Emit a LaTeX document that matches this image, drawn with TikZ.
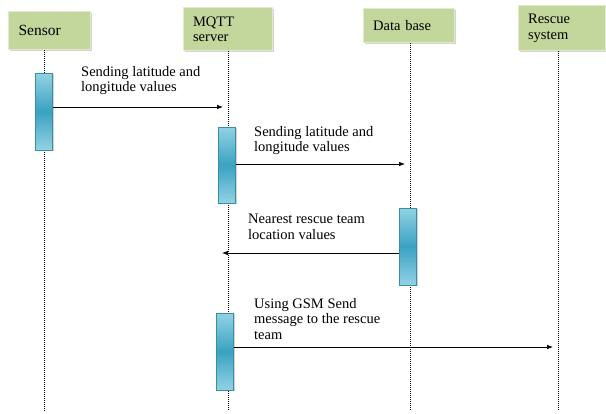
\documentclass[tikz,border=0pt]{standalone}
\usepackage{fontspec}
\setmainfont{Liberation Serif}
\usepackage{tikz}
\usetikzlibrary{arrows.meta,shadows}

\definecolor{actorgreen}{HTML}{C3D69B}
\definecolor{actoredge}{HTML}{E2EBCF}
\definecolor{barlight}{HTML}{92D2E4}
\definecolor{bardark}{HTML}{3AA2C2}
\definecolor{baredge}{HTML}{3B8DA6}

\begin{document}
\begin{tikzpicture}[x=1pt, y=-1pt,
        font=\fontsize{14.5}{15.5}\selectfont,
        actor/.style={rectangle, anchor=north west, fill=actorgreen, draw=actoredge, line width=1.2pt,
            drop shadow={shadow xshift=1.5pt, shadow yshift=-1.5pt, opacity=0.35},
            align=left, inner xsep=9pt, inner ysep=3pt},
        bar/.style={rectangle, minimum width=17pt, draw=baredge, line width=0.6pt,
            top color=barlight, bottom color=barlight, middle color=bardark,
            drop shadow={shadow xshift=1pt, shadow yshift=-1.2pt, opacity=0.35}},
        lifeline/.style={densely dotted, line width=1pt},
        msg/.style={-{Latex[length=6pt, width=4.5pt]}, line width=0.7pt},
        lbl/.style={anchor=north west, align=left, inner sep=0pt}
    ]
    \useasboundingbox (0,0) rectangle (606,413);

    % Participants
    \node[actor, minimum width=82pt, minimum height=38pt, text width=62pt, yshift=-1pt] (sensor) at (8,10) {\fontsize{15.5}{16}\selectfont Sensor};
    \node[actor, minimum width=89pt, minimum height=43pt, text width=70pt] (mqtt) at (183,7) {MQTT\\server};
    \node[actor, minimum width=91pt, minimum height=34pt, text width=72pt] (db) at (363,8) {Data base};
    \node[actor, minimum width=87pt, minimum height=45pt, text width=68pt] (rescue) at (518,5) {Rescue\\system};

    % Lifeline ends
    \coordinate (sensor-end) at (44,411);
    \coordinate (mqtt-end) at (228,411);
    \coordinate (db-end) at (410,411);
    \coordinate (rescue-end) at (558,411);

    \draw[lifeline] (sensor-end |- sensor.south) -- (sensor-end);
    \draw[lifeline] (mqtt-end |- mqtt.south) -- (mqtt-end);
    \draw[lifeline] (db-end |- db.south) -- (db-end);
    \draw[lifeline] (rescue-end |- rescue.south) -- (rescue-end);

    % Activation bars
    \node[bar, minimum height=77pt] (sensorbar) at (44,111.5) {};
    \node[bar, minimum height=76pt] (mqttbar) at (227,165) {};
    \node[bar, minimum height=77pt] (dbbar) at (408,246.5) {};
    \node[bar, minimum height=77pt] (mqttbar2) at (225,351.5) {};

    % Messages
    \coordinate (m1) at (223,107);
    \coordinate (m2) at (405,164);
    \coordinate (m3) at (222,253);
    \coordinate (m4) at (553,347);
    \draw[msg] (sensorbar.east |- m1) -- (m1);
    \draw[msg] (mqttbar.east |- m2) -- (m2);
    \draw[msg] (dbbar.west |- m3) -- (m3);
    \draw[msg] (mqttbar2.east |- m4) -- (m4);

    \node[lbl] (lbl1) at (81,66) {Sending latitude and\\longitude values};
    \node[lbl] (lbl2) at (254,126) {Sending latitude and\\longitude values};
    \node[lbl] (lbl3) at (248,214) {Nearest rescue team\\location values};
    \node[lbl] (lbl4) at (254,298) {Using GSM Send\\message to the rescue\\team};

\end{tikzpicture}
\end{document}
